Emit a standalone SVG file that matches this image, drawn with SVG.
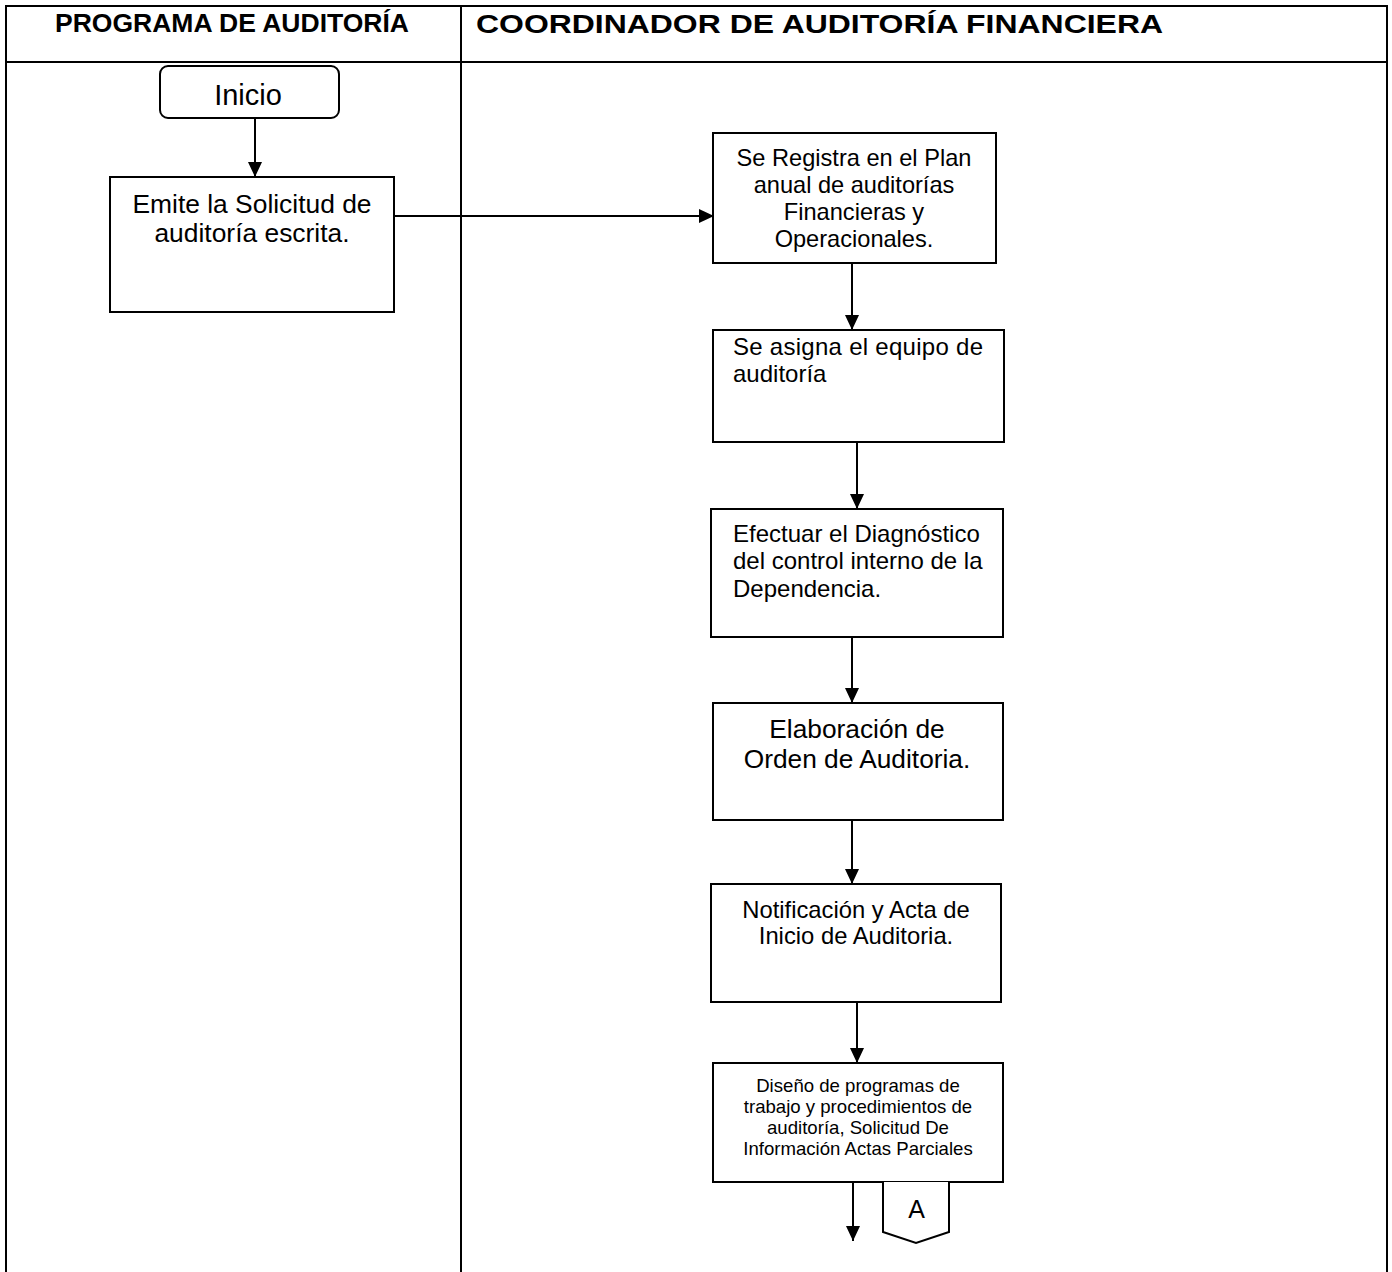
<svg xmlns="http://www.w3.org/2000/svg" width="1392" height="1272" viewBox="0 0 1392 1272">
<style>
.ln{stroke:#000;stroke-width:2;fill:none}
.box{stroke:#000;stroke-width:2;fill:#fff}
.t{font-family:"Liberation Sans",Arial,sans-serif;fill:#000}
.c{text-anchor:middle}
.hd{font-family:"Liberation Sans",Arial,sans-serif;font-weight:bold;fill:#000}
</style>
<defs>
<marker id="ah" markerUnits="userSpaceOnUse" viewBox="0 0 15 14" markerWidth="15" markerHeight="14" refX="15" refY="7" orient="auto">
<path d="M0,0 L15,7 L0,14 z" fill="#000"/>
</marker>
</defs>
<rect width="1392" height="1272" fill="#fff"/>
<g id="table">
<path class="ln" d="M6,1272 V6 H1387 V1272 M461,6 V1272 M6,62 H1387"/>
<text class="hd" x="55" y="32" font-size="26" textLength="354" lengthAdjust="spacingAndGlyphs">PROGRAMA DE AUDITORÍA</text>
<text class="hd" x="476" y="32.5" font-size="26.5" textLength="687" lengthAdjust="spacingAndGlyphs">COORDINADOR DE AUDITORÍA FINANCIERA</text>
</g>
<g id="connectors">
<line class="ln" x1="255" y1="118" x2="255" y2="177" marker-end="url(#ah)"/>
<line class="ln" x1="394" y1="216" x2="714" y2="216" marker-end="url(#ah)"/>
<line class="ln" x1="852" y1="263" x2="852" y2="330" marker-end="url(#ah)"/>
<line class="ln" x1="857" y1="442" x2="857" y2="509" marker-end="url(#ah)"/>
<line class="ln" x1="852" y1="637" x2="852" y2="703" marker-end="url(#ah)"/>
<line class="ln" x1="852" y1="820" x2="852" y2="884" marker-end="url(#ah)"/>
<line class="ln" x1="857" y1="1002" x2="857" y2="1063" marker-end="url(#ah)"/>
<line class="ln" x1="853" y1="1182" x2="853" y2="1241" marker-end="url(#ah)"/>
</g>
<g id="inicio">
<rect class="box" x="160" y="66" width="179" height="52" rx="8"/>
<text class="t c" x="248" y="105" font-size="29">Inicio</text>
</g>
<g id="emite">
<rect class="box" x="110" y="177" width="284" height="135"/>
<text class="t c" x="252" y="213" font-size="26.4">Emite la Solicitud de</text>
<text class="t c" x="252" y="242" font-size="26.4">auditoría escrita.</text>
</g>
<g id="registra">
<rect class="box" x="713" y="133" width="283" height="130"/>
<text class="t c" x="854" y="166" font-size="23.6">Se Registra en el Plan</text>
<text class="t c" x="854" y="193" font-size="23.6">anual de auditorías</text>
<text class="t c" x="854" y="220" font-size="23.6">Financieras y</text>
<text class="t c" x="854" y="247" font-size="23.6">Operacionales.</text>
</g>
<g id="asigna">
<rect class="box" x="713" y="330" width="291" height="112"/>
<text class="t" x="733" y="355" font-size="24" textLength="250" lengthAdjust="spacing">Se asigna el equipo de</text>
<text class="t" x="733" y="382" font-size="24">auditoría</text>
</g>
<g id="efectuar">
<rect class="box" x="711" y="509" width="292" height="128"/>
<text class="t" x="733" y="542" font-size="24">Efectuar el Diagnóstico</text>
<text class="t" x="733" y="569" font-size="24">del control interno de la</text>
<text class="t" x="733" y="597" font-size="24">Dependencia.</text>
</g>
<g id="elaboracion">
<rect class="box" x="713" y="703" width="290" height="117"/>
<text class="t c" x="857" y="738" font-size="26.3">Elaboración de</text>
<text class="t c" x="857" y="768" font-size="26.3">Orden de Auditoria.</text>
</g>
<g id="notificacion">
<rect class="box" x="711" y="884" width="290" height="118"/>
<text class="t c" x="856" y="918" font-size="23.8">Notificación y Acta de</text>
<text class="t c" x="856" y="944" font-size="23.8">Inicio de Auditoria.</text>
</g>
<g id="diseno">
<rect class="box" x="713" y="1063" width="290" height="119"/>
<text class="t c" x="858" y="1092" font-size="18.6">Diseño de programas de</text>
<text class="t c" x="858" y="1113" font-size="18.6">trabajo y procedimientos de</text>
<text class="t c" x="858" y="1134" font-size="18.6">auditoría, Solicitud De</text>
<text class="t c" x="858" y="1155" font-size="18.6">Información Actas Parciales</text>
</g>
<g id="conector-a">
<path class="box" d="M883,1182 V1232 L916,1243 L949,1232 V1182"/>
<text class="t c" x="916.5" y="1218" font-size="25">A</text>
</g>
</svg>
